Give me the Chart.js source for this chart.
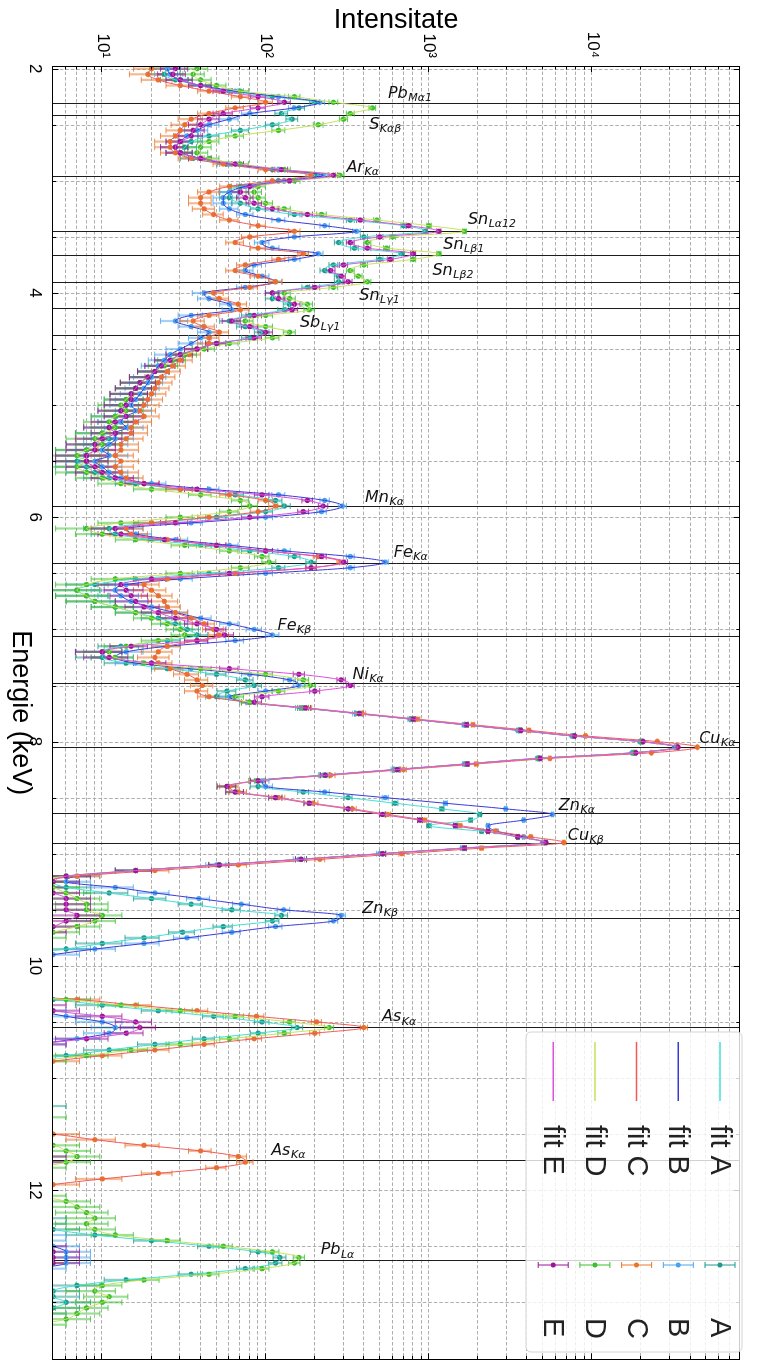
<!DOCTYPE html>
<html>
<head>
<meta charset="utf-8">
<script src="https://cdn.jsdelivr.net/npm/chart.js@4.4.1/dist/chart.umd.min.js"></script>
<style>
html, body { margin:0; padding:0; background:#fff; overflow:hidden; }
body { width:758px; height:1362px; position:relative; }
#wrap { position:absolute; left:0; top:0; width:1362px; height:758px; transform-origin:0 0; transform:translate(758px,0) rotate(90deg); }
canvas { display:block; }
</style>
</head>
<body>
<div id="wrap"><canvas id="spectru" width="1362" height="758"></canvas></div>
<script>
// --- DATE ---
// grila de energie (keV): 2.00 ... 13.30, pas 0.05
const E_START = 2.0, E_STEP = 0.05, N_PTS = 227;
const energii = Array.from({length: N_PTS}, (_, i) => +(E_START + i * E_STEP).toFixed(2));

const intensA = [
  25, 24, 28, 40, 60, 110, 200, 160, 125, 145, 110, 70, 45, 35, 32, 30, 36, 58, 110, 200,
  120, 70, 60, 60, 70, 90, 150, 330, 700, 950, 400, 280, 350, 680, 500, 260, 230, 280, 280, 180,
  110, 110, 140, 130, 80, 60, 75, 95, 80, 50, 38, 30, 26, 23, 21, 19, 17, 16, 15, 14,
  14, 13, 12, 13, 11, 10, 11, 9, 8, 8, 7, 8, 9, 11, 16, 30, 65, 115, 130, 100,
  50, 20, 11, 12, 20, 40, 80, 150, 190, 120, 45, 16, 9, 7, 8, 9, 12, 16, 22, 28,
  33, 38, 25, 13, 10, 10, 14, 25, 50, 75, 85, 58, 50, 80, 170, 370, 790, 1680, 3600, 7700,
  20000, 33000, 18000, 4700, 1700, 630, 230, 90, 90, 170, 320, 620, 1200, 2050, 1800, 1000, 2100, 3500, 5000, 1650,
  520, 165, 52, 16, 6, 5, 6, 11, 20, 35, 62, 125, 110, 55, 31, 18, 10, 6, 3, 2,
  2, 2, 2, 2, 2, 2, 5, 10, 22, 48, 95, 156, 90, 42, 21, 11, 6, 3, 2, 2,
  2, 2, 2, 2, 3, 4, 3, 2, 2, 2, 2, 2, 2, 2, 2, 2, 2, 2, 2, 2,
  2, 2, 3, 3, 3, 4, 4, 5, 9, 20, 45, 90, 122, 115, 75, 35, 14, 7, 5, 5,
  6, 5, 4, 3, 3, 2, 2
];
const intensB = [
  25, 26, 30, 40, 65, 120, 215, 150, 80, 60, 45, 38, 33, 30, 28, 30, 40, 60, 120, 225,
  130, 75, 60, 55, 55, 60, 75, 120, 230, 360, 150, 95, 110, 210, 150, 85, 75, 95, 115, 75,
  42, 45, 60, 62, 35, 28, 35, 45, 40, 35, 30, 26, 24, 22, 21, 20, 19, 18, 17, 16,
  15, 16, 14, 13, 14, 12, 12, 11, 10, 11, 9, 10, 11, 13, 20, 45, 120, 230, 295, 220,
  100, 35, 14, 16, 28, 60, 130, 330, 540, 330, 100, 30, 14, 12, 13, 15, 20, 28, 40, 60,
  85, 110, 65, 25, 14, 12, 16, 35, 80, 140, 160, 100, 60, 78, 165, 360, 770, 1640, 3500, 7500,
  19500, 32000, 17500, 4600, 1650, 610, 225, 95, 100, 230, 540, 1260, 2950, 5700, 3800, 2300, 2600, 3800, 5000, 1600,
  500, 160, 50, 16, 7, 6, 12, 21, 39, 71, 129, 290, 260, 115, 62, 33, 18, 9, 5, 3,
  2, 2, 2, 2, 2, 2, 2, 3, 4, 6, 10, 12, 11, 7, 4, 3, 2, 2, 2, 2,
  2, 2, 2, 2, 2, 2, 2, 2, 2, 2, 2, 2, 2, 2, 2, 2, 2, 2, 2, 2,
  2, 2, 2, 2, 2, 2, 2, 3, 4, 4, 5, 6, 6, 6, 4, 3, 2, 2, 2, 2,
  2, 2, 2, 2, 2, 2, 2
];
const intensC = [
  20, 19, 22, 30, 45, 70, 100, 65, 45, 35, 32, 30, 28, 26, 26, 28, 35, 55, 100, 190,
  110, 60, 45, 40, 40, 42, 48, 60, 90, 150, 80, 65, 90, 170, 120, 75, 65, 90, 115, 80,
  48, 52, 68, 70, 45, 36, 42, 52, 45, 45, 38, 34, 30, 27, 25, 23, 22, 21, 20, 19,
  18, 17, 18, 16, 15, 15, 14, 13, 13, 12, 13, 12, 13, 14, 18, 30, 60, 100, 115, 90,
  45, 20, 14, 15, 25, 50, 100, 210, 290, 190, 65, 25, 18, 20, 22, 24, 25, 28, 35, 42,
  48, 52, 38, 25, 22, 21, 22, 26, 33, 38, 41, 38, 45, 80, 178, 390, 850, 1860, 4100, 9100,
  25000, 44000, 23000, 5500, 1950, 700, 250, 90, 60, 68, 120, 195, 340, 560, 940, 1550, 2550, 4200, 6700, 2100,
  680, 215, 68, 21, 7, 4, 3, 3, 3, 3, 3, 3, 3, 3, 3, 3, 2, 2, 2, 2,
  2, 2, 2, 2, 2, 2, 7, 16, 38, 88, 205, 400, 200, 85, 42, 21, 10, 5, 3, 2,
  2, 2, 2, 2, 2, 2, 2, 2, 2, 2, 5, 9, 18, 40, 68, 75, 50, 22, 10, 5,
  3, 2, 2, 2, 2, 2, 2, 2, 2, 2, 2, 3, 3, 4, 3, 2, 2, 2, 2, 2,
  2, 2, 2, 2, 2, 2, 2
];
const intensD = [
  38, 36, 40, 50, 70, 150, 260, 450, 330, 300, 210, 120, 65, 45, 40, 38, 45, 70, 130, 285,
  150, 90, 85, 90, 100, 130, 220, 480, 1000, 1650, 600, 420, 550, 1150, 800, 400, 330, 370, 420, 260,
  130, 140, 180, 185, 100, 75, 100, 140, 110, 60, 42, 32, 27, 24, 21, 19, 17, 16, 15, 14,
  13, 14, 12, 11, 12, 10, 9, 10, 8, 7, 8, 7, 8, 10, 13, 20, 40, 70, 80, 60,
  30, 13, 8, 10, 16, 32, 60, 95, 105, 70, 30, 12, 8, 7, 8, 9, 12, 16, 20, 25,
  30, 32, 22, 14, 11, 12, 18, 40, 100, 170, 188, 120, 65, 80, 170, 370, 790, 1700, 3600, 7700,
  20000, 33000, 18000, 4700, 1700, 630, 230, 88, 58, 65, 115, 185, 320, 520, 880, 1450, 2300, 3500, 5200, 1650,
  520, 165, 52, 16, 6, 4, 5, 6, 7, 8, 8, 10, 9, 7, 5, 4, 3, 3, 2, 2,
  2, 2, 2, 2, 2, 2, 6, 13, 30, 65, 140, 245, 130, 60, 30, 15, 8, 4, 3, 2,
  2, 2, 2, 2, 2, 2, 3, 4, 2, 2, 2, 3, 5, 6, 7, 6, 4, 3, 2, 2,
  3, 4, 6, 7, 8, 9, 8, 9, 12, 25, 55, 110, 160, 150, 95, 45, 18, 10, 9, 11,
  10, 8, 7, 6, 4, 3, 3
];
const intensE = [
  28, 27, 30, 40, 55, 90, 130, 90, 55, 45, 40, 36, 35, 30, 28, 30, 40, 65, 125, 260,
  140, 80, 70, 75, 85, 110, 180, 380, 750, 1150, 500, 330, 420, 800, 580, 300, 250, 290, 320, 200,
  110, 120, 150, 145, 85, 62, 80, 100, 85, 50, 38, 30, 26, 23, 21, 19, 17, 16, 15, 15,
  14, 13, 14, 12, 11, 12, 10, 9, 9, 8, 8, 9, 10, 12, 18, 38, 95, 180, 225, 170,
  80, 28, 12, 13, 24, 50, 100, 220, 300, 190, 60, 20, 13, 14, 15, 16, 18, 22, 28, 38,
  50, 56, 38, 15, 10, 11, 20, 60, 160, 290, 330, 200, 95, 85, 175, 375, 800, 1700, 3650, 7800,
  20500, 33500, 18500, 4800, 1720, 640, 232, 90, 58, 65, 115, 185, 320, 520, 880, 1450, 2300, 3500, 5200, 1650,
  520, 165, 52, 16, 6, 5, 4, 5, 6, 6, 6, 7, 6, 5, 4, 3, 2, 2, 2, 2,
  2, 2, 2, 2, 2, 2, 3, 4, 5, 10, 16, 17, 14, 8, 4, 3, 2, 2, 2, 2,
  2, 2, 2, 2, 2, 2, 2, 2, 2, 2, 2, 2, 2, 3, 4, 4, 3, 2, 2, 2,
  2, 2, 2, 2, 2, 2, 2, 2, 2, 3, 4, 5, 5, 5, 3, 2, 2, 2, 2, 2,
  2, 2, 2, 2, 2, 2, 2
];

// liniile elementelor: [simbol, indice, energie linie, energie eticheta, intensitate eticheta]
const elemente = [
  ['Pb', 'Mα1', 2.31, 2.261, 560],
  ['S', 'Kαβ', 2.41, 2.537, 430],
  ['Ar', 'Kα', 2.957, 2.921, 312],
  ['Sn', 'Lα12', 3.444, 3.384, 1730],
  ['Sn', 'Lβ1', 3.663, 3.607, 1222],
  ['Sn', 'Lβ2', 3.905, 3.838, 1050],
  ['Sn', 'Lγ1', 4.131, 4.061, 374],
  ['Sb', 'Lγ1', 4.373, 4.302, 162],
  ['Mn', 'Kα', 5.899, 5.862, 406],
  ['Fe', 'Kα', 6.404, 6.352, 609],
  ['Fe', 'Kβ', 7.058, 7.003, 118],
  ['Ni', 'Kα', 7.478, 7.440, 340],
  ['Cu', 'Kα', 8.048, 8.010, 45100],
  ['Zn', 'Kα', 8.639, 8.607, 6240],
  ['Cu', 'Kβ', 8.905, 8.875, 7070],
  ['Zn', 'Kβ', 9.572, 9.525, 390],
  ['As', 'Kα', 10.544, 10.496, 515],
  ['As', 'Kα', 11.735, 11.682, 108],
  ['Pb', 'Lα', 12.626, 12.573, 217]
];

const serii = [
  { nume: 'A', date: intensA, culoare: '#1f9a8b', fit: '#40e0d6' },
  { nume: 'B', date: intensB, culoare: '#4aa3ee', fit: '#3a3ad8' },
  { nume: 'C', date: intensC, culoare: '#e8762a', fit: '#f05a5a' },
  { nume: 'D', date: intensD, culoare: '#3cbf30', fit: '#c4e35a' },
  { nume: 'E', date: intensE, culoare: '#9a1596', fit: '#dd4fdd' }
];

const SUP = { 1: '¹', 2: '²', 3: '³', 4: '⁴' };

// --- PLUGINURI ---
const fundal = {
  id: 'fundal',
  beforeDatasetsDraw(chart) {
    const { ctx, chartArea: ca, scales: { x, y } } = chart;
    ctx.save();
    // grila punctata
    ctx.strokeStyle = '#a6a6a6';
    ctx.lineWidth = 0.9;
    ctx.setLineDash([3.5, 2]);
    x.ticks.forEach(t => {
      const px = Math.round(x.getPixelForValue(t.value)) + 0.5;
      ctx.beginPath(); ctx.moveTo(px, ca.top); ctx.lineTo(px, ca.bottom); ctx.stroke();
    });
    y.ticks.forEach(t => {
      const py = Math.round(y.getPixelForValue(t.value)) + 0.5;
      ctx.beginPath(); ctx.moveTo(ca.left, py); ctx.lineTo(ca.right, py); ctx.stroke();
    });
    ctx.setLineDash([]);
    // liniile elementelor
    ctx.strokeStyle = '#1c1c1c';
    ctx.lineWidth = 1;
    elemente.forEach(el => {
      const px = Math.round(x.getPixelForValue(el[2])) + 0.5;
      ctx.beginPath(); ctx.moveTo(px, ca.top); ctx.lineTo(px, ca.bottom); ctx.stroke();
    });
    // bare de eroare (Poisson)
    ctx.beginPath();
    ctx.rect(ca.left, ca.top, ca.right - ca.left, ca.bottom - ca.top);
    ctx.clip();
    serii.forEach(s => {
      ctx.strokeStyle = s.culoare;
      s.date.forEach((v, i) => {
        if (v == null) return;
        const err = Math.sqrt(v);
        const px = x.getPixelForValue(energii[i]);
        const yHi = y.getPixelForValue(v + err);
        const yLo = v - err > 0 ? y.getPixelForValue(v - err) : ca.bottom + 10;
        ctx.globalAlpha = 0.5;
        ctx.lineWidth = 2.2;
        ctx.beginPath(); ctx.moveTo(px, yLo); ctx.lineTo(px, yHi); ctx.stroke();
        ctx.globalAlpha = 0.8;
        ctx.lineWidth = 1;
        ctx.beginPath();
        ctx.moveTo(px - 3, yHi); ctx.lineTo(px + 3, yHi);
        ctx.moveTo(px - 3, yLo); ctx.lineTo(px + 3, yLo);
        ctx.stroke();
      });
    });
    ctx.restore();
  },
  afterDraw(chart) {
    const { ctx, chartArea: ca, scales: { x, y } } = chart;
    ctx.save();
    // etichete elemente
    ctx.fillStyle = '#111';
    ctx.textBaseline = 'alphabetic';
    elemente.forEach(el => {
      const px = x.getPixelForValue(el[3]);
      const py = y.getPixelForValue(el[4]);
      ctx.save();
      ctx.translate(px, py);
      ctx.rotate(-Math.PI / 2);
      ctx.font = 'italic 16px "DejaVu Sans"';
      ctx.fillText(el[0], 0, 0);
      const w = ctx.measureText(el[0]).width;
      ctx.font = 'italic 11px "DejaVu Sans"';
      ctx.fillText(el[1], w + 0.5, 3.5);
      ctx.restore();
    });
    // cadru
    ctx.strokeStyle = '#000';
    ctx.lineWidth = 1;
    ctx.strokeRect(Math.round(ca.left) + 0.5, Math.round(ca.top) + 0.5, Math.round(ca.right - ca.left), Math.round(ca.bottom - ca.top));
    // tick-uri spre interior
    ctx.beginPath();
    x.ticks.forEach(t => {
      const px = Math.round(x.getPixelForValue(t.value)) + 0.5;
      const L = Math.abs(t.value % 2) < 1e-6 ? 6 : 3.5;
      ctx.moveTo(px, ca.bottom); ctx.lineTo(px, ca.bottom - L);
      ctx.moveTo(px, ca.top); ctx.lineTo(px, ca.top + L);
    });
    y.ticks.forEach(t => {
      const py = Math.round(y.getPixelForValue(t.value)) + 0.5;
      const p = Math.log10(t.value);
      const L = Math.abs(p - Math.round(p)) < 1e-6 ? 6 : 3.5;
      ctx.moveTo(ca.left, py); ctx.lineTo(ca.left + L, py);
      ctx.moveTo(ca.right, py); ctx.lineTo(ca.right - L, py);
    });
    ctx.stroke();
    // legenda
    const bx = 1032, by = 16, bw = 320, bh = 216, r = 5;
    ctx.beginPath();
    ctx.moveTo(bx + r, by);
    ctx.arcTo(bx + bw, by, bx + bw, by + bh, r);
    ctx.arcTo(bx + bw, by + bh, bx, by + bh, r);
    ctx.arcTo(bx, by + bh, bx, by, r);
    ctx.arcTo(bx, by, bx + bw, by, r);
    ctx.closePath();
    ctx.fillStyle = 'rgba(255,255,255,0.8)';
    ctx.fill();
    ctx.strokeStyle = '#d4d4d4';
    ctx.stroke();
    ctx.font = '29px "Liberation Sans"';
    ctx.textBaseline = 'middle';
    serii.forEach((s, k) => {
      const ry = 38 + k * 41.7;
      ctx.strokeStyle = s.fit;
      ctx.lineWidth = 1.5;
      ctx.beginPath(); ctx.moveTo(1042, ry); ctx.lineTo(1101, ry); ctx.stroke();
      ctx.fillStyle = '#222';
      ctx.fillText('fit ' + s.nume, 1125, ry + 1);
      ctx.strokeStyle = s.culoare;
      ctx.lineWidth = 1;
      ctx.beginPath();
      ctx.moveTo(1265, ry - 15); ctx.lineTo(1265, ry + 15);
      ctx.moveTo(1262, ry - 15); ctx.lineTo(1268, ry - 15);
      ctx.moveTo(1262, ry + 15); ctx.lineTo(1268, ry + 15);
      ctx.stroke();
      ctx.fillStyle = s.culoare;
      ctx.beginPath(); ctx.arc(1265, ry, 2.5, 0, Math.PI * 2); ctx.fill();
      ctx.fillStyle = '#222';
      ctx.fillText(s.nume, 1318, ry + 1);
    });
    ctx.restore();
  }
};

// --- GRAFIC ---
const seturi = [];
serii.forEach((s, k) => {
  const puncte = energii.map((e, i) => ({ x: e, y: s.date[i] }));
  seturi.push({
    label: s.nume, data: puncte, showLine: false,
    pointRadius: 2.6, pointHoverRadius: 2.6, pointBorderWidth: 0,
    pointBackgroundColor: s.culoare, borderColor: s.culoare, order: 20 - 2 * k
  });
  seturi.push({
    label: 'fit ' + s.nume, data: puncte, showLine: true,
    borderColor: s.fit, borderWidth: 1, pointRadius: 0,
    cubicInterpolationMode: 'monotone', order: 19 - 2 * k
  });
});

Chart.defaults.font.family = '"Liberation Sans", Arial, sans-serif';
Chart.defaults.color = '#000';

new Chart(document.getElementById('spectru'), {
  type: 'line',
  data: { datasets: seturi },
  options: {
    responsive: false,
    animation: false,
    devicePixelRatio: 1,
    events: [],
    layout: { padding: { top: 10, right: 2, left: 0, bottom: 0 } },
    plugins: { legend: { display: false }, tooltip: { enabled: false } },
    scales: {
      x: {
        type: 'linear', min: 1.976, max: 13.509,
        afterBuildTicks: ax => {
          const t = [];
          for (let v = 2; v <= 13.01; v += 0.5) t.push({ value: +v.toFixed(1) });
          ax.ticks = t;
        },
        afterFit: ax => { ax.height = 52.5; },
        grid: { display: false, drawTicks: false },
        border: { display: false },
        ticks: {
          autoSkip: false, maxRotation: 0, padding: 8, font: { size: 17 },
          callback: v => (Math.abs(v % 2) < 1e-6 ? String(v) : '')
        },
        title: { display: true, text: 'Energie (keV)', font: { size: 27 }, padding: { top: 0, bottom: 4 } }
      },
      y: {
        type: 'logarithmic', min: 4.95, max: 80000,
        afterBuildTicks: ax => {
          const t = [];
          for (let p = 0; p <= 4; p++) {
            for (let m = 1; m <= 9; m++) {
              const v = m * Math.pow(10, p);
              if (v >= 4.95 && v <= 80000) t.push({ value: v });
            }
          }
          ax.ticks = t;
        },
        afterFit: ax => { ax.width = 66; },
        grid: { display: false, drawTicks: false },
        border: { display: false },
        ticks: {
          autoSkip: false, padding: 8, font: { size: 17 },
          callback: v => {
            const p = Math.log10(v);
            return Math.abs(p - Math.round(p)) < 1e-6 && p >= 1 ? '10' + SUP[Math.round(p)] : '';
          }
        },
        title: { display: true, text: 'Intensitate', font: { size: 27 }, padding: { top: 4, bottom: 0 } }
      }
    }
  },
  plugins: [fundal]
});
</script>
</body>
</html>
